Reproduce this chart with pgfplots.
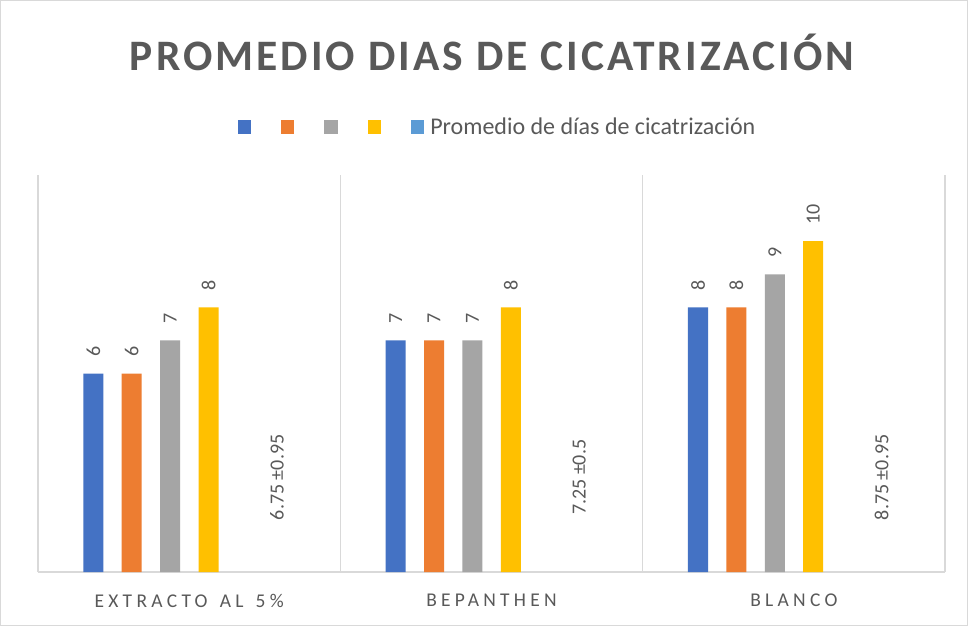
\documentclass[border=0pt]{standalone}
\usepackage{pgfplots}
\pgfplotsset{compat=1.18}
\usepackage{fontspec}
\setmainfont{Carlito}
\newfontfamily\titlefont[LetterSpace=7]{Carlito}
\newfontfamily\catfont[LetterSpace=22, WordSpace=1.4]{Carlito}
\definecolor{txt}{HTML}{595959}
\definecolor{gridc}{HTML}{D9D9D9}
\definecolor{c1}{HTML}{4472C4}
\definecolor{c2}{HTML}{ED7D31}
\definecolor{c3}{HTML}{A5A5A5}
\definecolor{c4}{HTML}{FFC000}
\definecolor{c5}{HTML}{5B9BD5}
\pgfplotsset{
  vlab/.style={nodes near coords={\pgfmathprintnumber[assume math mode=true]{\pgfplotspointmeta}},
    nodes near coords align={west},
    every node near coord/.append style={yshift=12.5pt, rotate=90, anchor=west, inner sep=0pt,
      text=txt, font=\fontsize{15}{18}\selectfont}},
}
\begin{document}
\begin{tikzpicture}
\fill[white] (-28.5pt,-40.5pt) rectangle (697.5pt,429pt);
\draw[gridc, line width=0.8pt] (-28.1pt,-40.1pt) rectangle (697.1pt,428.6pt);
\begin{axis}[
  at={(0,0)}, anchor=south west, scale only axis,
  width=680.25pt, height=297.75pt,
  xmin=-0.5, xmax=2.5, ymin=0, ymax=12,
  hide y axis,
  axis x line*=bottom,
  x axis line style={draw=gridc, line width=0.8pt, -},
  xtick={0,1,2},
  xticklabels={EXTRACTO AL 5\%, BEPANTHEN, BLANCO},
  xticklabel style={anchor=center, yshift=-21.5pt, text=txt, font=\catfont\fontsize{14.6}{17}\selectfont},
  major tick length=0pt,
  extra x ticks={-0.5,0.5,1.5,2.5},
  extra x tick labels={},
  extra x tick style={grid=major, major grid style={draw=gridc, line width=0.8pt}},
  ybar, bar width=0.0662,
  title={\titlefont\bfseries PROMEDIO DIAS DE CICATRIZACIÓN},
  title style={at={(0.5006,1.288)}, anchor=center, text=txt, font=\fontsize{32.6}{38}\selectfont},
  legend columns=-1,
  legend style={draw=none, fill=none, at={(0.5055,1.121)}, anchor=center,
    inner sep=0pt, nodes={inner sep=0pt, text=txt, font=\fontsize{18}{22}\selectfont},
    /tikz/every odd column/.append style={column sep=4.5pt},
    /tikz/every even column/.append style={column sep=17pt}},
  legend image code/.code={\fill[#1] (0pt,-5pt) rectangle (10pt,5pt);},
]
\addplot[fill=c1, draw=none, bar shift=-0.317, vlab] coordinates {(0,6) (1,7) (2,8)};
\addlegendentry{\mbox{}}
\addplot[fill=c2, draw=none, bar shift=-0.19, vlab] coordinates {(0,6) (1,7) (2,8)};
\addlegendentry{\mbox{}}
\addplot[fill=c3, draw=none, bar shift=-0.063, vlab] coordinates {(0,7) (1,7) (2,9)};
\addlegendentry{\mbox{}}
\addplot[fill=c4, draw=none, bar shift=0.064, vlab] coordinates {(0,8) (1,8) (2,10)};
\addlegendentry{\mbox{}}
\addplot[fill=none, draw=none, bar shift=0.29, nodes near coords, point meta=explicit symbolic,
  nodes near coords align={center},
  legend image code/.code={\fill[c5] (0pt,-5pt) rectangle (10pt,5pt);},
  every node near coord/.append style={yshift=71pt, rotate=90, anchor=center, inner sep=0pt,
    text=txt, font=\fontsize{15}{18}\selectfont}]
  coordinates {(0,0) [6.75 ±0.95] (1,0) [7.25 ±0.5] (2,0) [8.75 ±0.95]};
\addlegendentry{Promedio de días de cicatrización}
\end{axis}
\end{tikzpicture}
\end{document}
